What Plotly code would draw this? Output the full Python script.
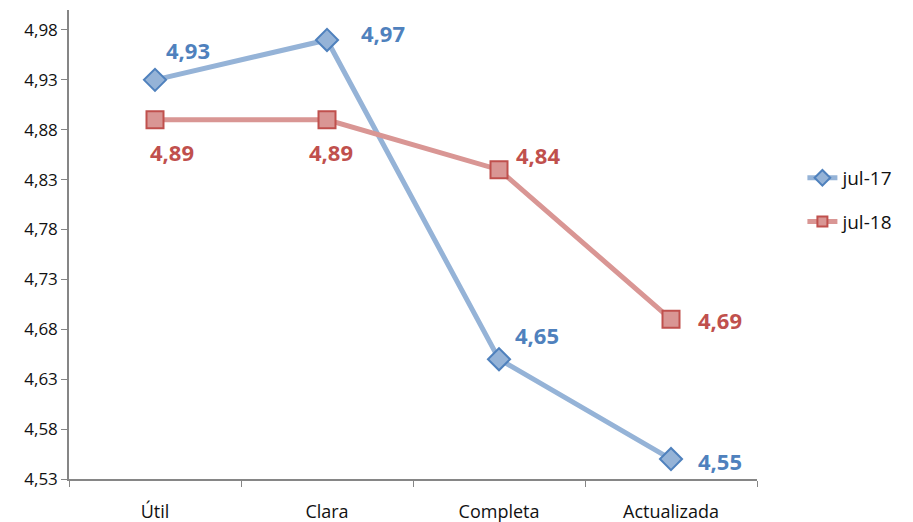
import plotly.graph_objects as go

categories = ["Útil", "Clara", "Completa", "Actualizada"]
jul17 = [4.93, 4.97, 4.65, 4.55]
jul18 = [4.89, 4.89, 4.84, 4.69]
y_ticks = [4.53, 4.58, 4.63, 4.68, 4.73, 4.78, 4.83, 4.88, 4.93, 4.98]

FONT = "Open Sans"
TEXT = "#111111"
BLUE_LINE, BLUE_EDGE = "#95B3D7", "#4F81BD"
RED_LINE, RED_EDGE = "#D99694", "#C0504D"


def fmt(v):
    return f"{v:.2f}".replace(".", ",")


fig = go.Figure()
series = [
    ("jul-17", jul17, BLUE_LINE, BLUE_EDGE, "diamond", 12),
    ("jul-18", jul18, RED_LINE, RED_EDGE, "square", 10),
]
for name, vals, lc, ec, sym, legsize in series:
    fig.add_trace(go.Scatter(
        x=categories, y=vals, name=name, mode="lines+markers",
        line=dict(color=lc, width=5),
        marker=dict(symbol=sym, size=17, color=lc, line=dict(color=ec, width=2)),
        showlegend=False,
    ))
    # legend entry with a smaller marker sample
    fig.add_trace(go.Scatter(
        x=[None], y=[None], name=name, mode="lines+markers", legendgroup=name,
        line=dict(color=lc, width=5),
        marker=dict(symbol=sym, size=legsize, color=lc, line=dict(color=ec, width=2)),
    ))

# data labels: (xshift, yshift) per point
blue_offsets = [(33, 30), (56, 7), (38, 24), (49, -2)]
red_offsets = [(17, -32), (4, -32), (39, 15), (49, -1)]
for vals, offs, color in [(jul17, blue_offsets, BLUE_EDGE), (jul18, red_offsets, RED_EDGE)]:
    for cat, v, (dx, dy) in zip(categories, vals, offs):
        fig.add_annotation(x=cat, y=v, text=fmt(v), showarrow=False,
                           xshift=dx, yshift=dy,
                           font=dict(family=FONT, size=22, color=color, weight="bold"))

fig.update_layout(
    width=913, height=522,
    margin=dict(l=69, r=156, t=10, b=43),
    paper_bgcolor="white", plot_bgcolor="white",
    font=dict(family=FONT, size=17, color=TEXT),
    showlegend=True,
    legend=dict(x=1.066, y=0.595, xanchor="left", yanchor="middle",
                font=dict(family=FONT, size=19, color=TEXT),
                tracegroupgap=16, itemwidth=30),
)
fig.update_xaxes(
    type="category", range=[-0.5, 3.5], automargin=False,
    showline=True, linecolor="#868686", linewidth=1.5,
    ticks="outside", tickson="boundaries", ticklen=6, tickcolor="#868686",
    showgrid=False, zeroline=False, ticklabelstandoff=16,
    tickfont=dict(family=FONT, size=18, color=TEXT),
)
fig.update_yaxes(
    range=[4.53, 5.0], automargin=False,
    tickvals=y_ticks, ticktext=[fmt(v) for v in y_ticks],
    showline=True, linecolor="#868686", linewidth=1.5,
    ticks="outside", ticklen=6, tickcolor="#868686",
    showgrid=False, zeroline=False,
    tickfont=dict(family=FONT, size=17, color=TEXT),
)

fig.write_html("out.html")
